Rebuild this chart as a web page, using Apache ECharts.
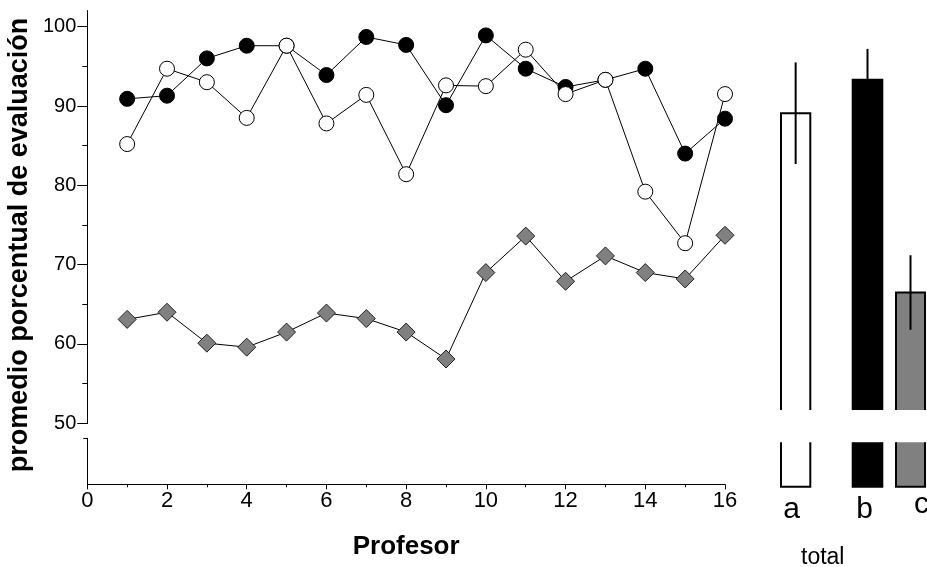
<!DOCTYPE html>
<html>
<head>
<meta charset="utf-8">
<script src="https://cdn.jsdelivr.net/npm/echarts@6/dist/echarts.min.js"></script>
<style>
html, body { margin: 0; padding: 0; background: #fff; }
#chart { width: 927px; height: 567px; }
</style>
</head>
<body>
<div id="chart"></div>
<script>
// datos
const profesores = [1, 2, 3, 4, 5, 6, 7, 8, 9, 10, 11, 12, 13, 14, 15, 16];
const serieNegra = [90.9, 91.3, 96.0, 97.6, 97.6, 93.9, 98.7, 97.7, 90.1, 98.9, 94.7, 92.4, 93.3, 94.7, 84.0, 88.4];
const serieBlanca = [85.2, 94.7, 93.0, 88.5, 97.6, 87.8, 91.4, 81.4, 92.6, 92.5, 97.1, 91.5, 93.3, 79.2, 72.7, 91.5];
const serieGris = [63.1, 64.0, 60.1, 59.6, 61.5, 63.9, 63.2, 61.5, 58.1, 69.0, 73.6, 67.9, 71.1, 69.0, 68.2, 73.7];
const barras = ['a', 'b', 'c'];
const medias = [89.1, 93.3, 66.5];
const errores = [6.4, 3.9, 4.7];
const ticksY = [50, 60, 70, 80, 90, 100];
const ticksYMenores = [55, 65, 75, 85, 95];

const fuente = 'Liberation Sans, Arial, sans-serif';
const coloresBarra = ['#ffffff', '#000000', '#808080'];
// posicion de cada barra (y desplazamiento de su letra)
const posBarra = [
    { left: 781, width: 29.3, dx: -4, dy: 0 },
    { left: 852.7, width: 29.6, dx: -3, dy: 0 },
    { left: 896, width: 29, dx: 11, dy: -5 }
];

// tramo de arriba: relleno, borde sin base y barra de error
function barraSuperior(color) {
    return function (params, api) {
        const cs = params.coordSys;
        const c = api.coord([api.value(0), api.value(1)]);
        const ancho = api.size([1, 0])[0];
        const x0 = c[0] - ancho / 2, x1 = c[0] + ancho / 2;
        const base = cs.y + cs.height;
        const alto = api.coord([api.value(0), api.value(3)])[1];
        const bajo = api.coord([api.value(0), api.value(2)])[1];
        return {
            type: 'group',
            children: [
                { type: 'rect', shape: { x: x0, y: c[1], width: ancho, height: base - c[1] }, style: { fill: color, stroke: 'none' } },
                { type: 'polyline', shape: { points: [[x0, base], [x0, c[1]], [x1, c[1]], [x1, base]] }, style: { fill: 'none', stroke: '#000', lineWidth: 2 } },
                { type: 'line', shape: { x1: c[0], y1: alto, x2: c[0], y2: bajo }, style: { stroke: '#000', lineWidth: 2 } }
            ]
        };
    };
}

// tramo de abajo (despues del corte) con su letra
function barraInferior(color, letra, dx, dy) {
    return function (params, api) {
        const cs = params.coordSys;
        const c = api.coord([api.value(0), 0]);
        const ancho = api.size([1, 0])[0];
        const x0 = c[0] - ancho / 2, x1 = c[0] + ancho / 2;
        const top = cs.y, base = cs.y + cs.height;
        return {
            type: 'group',
            children: [
                { type: 'rect', shape: { x: x0, y: top, width: ancho, height: base - top }, style: { fill: color, stroke: 'none' } },
                { type: 'polyline', shape: { points: [[x0, top], [x0, base], [x1, base], [x1, top]] }, style: { fill: 'none', stroke: '#000', lineWidth: 2 } },
                {
                    type: 'text', x: c[0] + dx, y: base + 8 + dy,
                    style: { text: letra, fontFamily: fuente, fontSize: 30, fill: '#000', align: 'center', verticalAlign: 'top' }
                }
            ]
        };
    };
}

const grids = [
    { left: 87.3, top: 10.8, width: 637.7, height: 412.5 },
    { left: 87.3, top: 438.3, width: 637.7, height: 46 }
];
const xAxes = [
    { gridIndex: 0, type: 'value', min: 0, max: 16, show: false },
    {
        gridIndex: 1, type: 'value', min: 0, max: 16, interval: 2,
        name: 'Profesor', nameLocation: 'middle', nameGap: 50,
        nameTextStyle: { fontFamily: fuente, fontSize: 26, fontWeight: 'bold', color: '#000' },
        axisLine: { lineStyle: { color: '#000', width: 1 } },
        axisTick: { length: 5, lineStyle: { color: '#000' } },
        minorTick: { show: true, splitNumber: 2, length: 3, lineStyle: { color: '#000' } },
        splitLine: { show: false },
        axisLabel: { fontFamily: fuente, fontSize: 22, color: '#000', margin: 6 }
    }
];
const yAxes = [
    {
        gridIndex: 0, type: 'value', min: 50, max: 102, position: 'left',
        axisLine: { show: true, lineStyle: { color: '#000', width: 1 } },
        axisTick: { show: true, length: 10, customValues: ticksY, lineStyle: { color: '#000' } },
        axisLabel: { customValues: ticksY, fontFamily: fuente, fontSize: 20, color: '#000', margin: 11 },
        splitLine: { show: false }
    },
    {
        gridIndex: 0, type: 'value', min: 50, max: 102, position: 'left',
        axisLine: { show: true, lineStyle: { color: '#000', width: 1 } },
        axisTick: { show: true, length: 5, customValues: ticksYMenores, lineStyle: { color: '#000' } },
        axisLabel: { show: false },
        splitLine: { show: false }
    },
    {
        gridIndex: 1, type: 'value', min: 0, max: 1, position: 'left',
        axisLine: { show: true, lineStyle: { color: '#000', width: 1 } },
        axisTick: { show: true, length: 4, customValues: [1], lineStyle: { color: '#000' } },
        axisLabel: { show: false },
        splitLine: { show: false }
    }
];

const series = [
    {
        type: 'line', xAxisIndex: 0, yAxisIndex: 0,
        data: profesores.map((p, i) => [p, serieNegra[i]]),
        symbol: 'circle', symbolSize: 15,
        lineStyle: { color: '#000', width: 1 },
        itemStyle: { color: '#000', borderColor: '#000', borderWidth: 1 }
    },
    {
        type: 'line', xAxisIndex: 0, yAxisIndex: 0,
        data: profesores.map((p, i) => [p, serieBlanca[i]]),
        symbol: 'circle', symbolSize: 15,
        lineStyle: { color: '#000', width: 1 },
        itemStyle: { color: '#fff', borderColor: '#000', borderWidth: 1 }
    },
    {
        type: 'line', xAxisIndex: 0, yAxisIndex: 0,
        data: profesores.map((p, i) => [p, serieGris[i]]),
        symbol: 'diamond', symbolSize: 18,
        lineStyle: { color: '#000', width: 1 },
        itemStyle: { color: '#808080', borderColor: '#222', borderWidth: 1 }
    }
];

barras.forEach((b, i) => {
    const p = posBarra[i];
    // tramo superior
    grids.push({ left: p.left, top: 10.8, width: p.width, height: 399.2 });
    xAxes.push({ gridIndex: grids.length - 1, type: 'category', data: [b], show: false });
    yAxes.push({ gridIndex: grids.length - 1, type: 'value', min: 51.7, max: 102, show: false });
    series.push({
        type: 'custom', xAxisIndex: xAxes.length - 1, yAxisIndex: yAxes.length - 1,
        renderItem: barraSuperior(coloresBarra[i]),
        encode: { x: 0, y: 1 },
        data: [[b, medias[i], medias[i] - errores[i], medias[i] + errores[i]]]
    });
    // tramo inferior
    grids.push({ left: p.left, top: 442.3, width: p.width, height: 44.4 });
    xAxes.push({ gridIndex: grids.length - 1, type: 'category', data: [b], show: false });
    yAxes.push({ gridIndex: grids.length - 1, type: 'value', min: 0, max: 1, show: false });
    series.push({
        type: 'custom', xAxisIndex: xAxes.length - 1, yAxisIndex: yAxes.length - 1,
        renderItem: barraInferior(coloresBarra[i], b, p.dx, p.dy),
        encode: { x: 0, y: 1 },
        data: [[b, medias[i]]]
    });
});

const chart = echarts.init(document.getElementById('chart'));
chart.setOption({
    animation: false,
    backgroundColor: '#fff',
    title: {
        text: 'total', left: 796, top: 541,
        textStyle: { fontFamily: fuente, fontSize: 23, fontWeight: 'normal', color: '#000' }
    },
    graphic: [{
        type: 'text', x: 20, y: 245, rotation: Math.PI / 2,
        style: {
            text: 'promedio porcentual de evaluación',
            fontFamily: fuente, fontSize: 27, fontWeight: 'bold', fill: '#000',
            align: 'center', verticalAlign: 'middle'
        }
    }],
    grid: grids,
    xAxis: xAxes,
    yAxis: yAxes,
    series: series
});
</script>
</body>
</html>
